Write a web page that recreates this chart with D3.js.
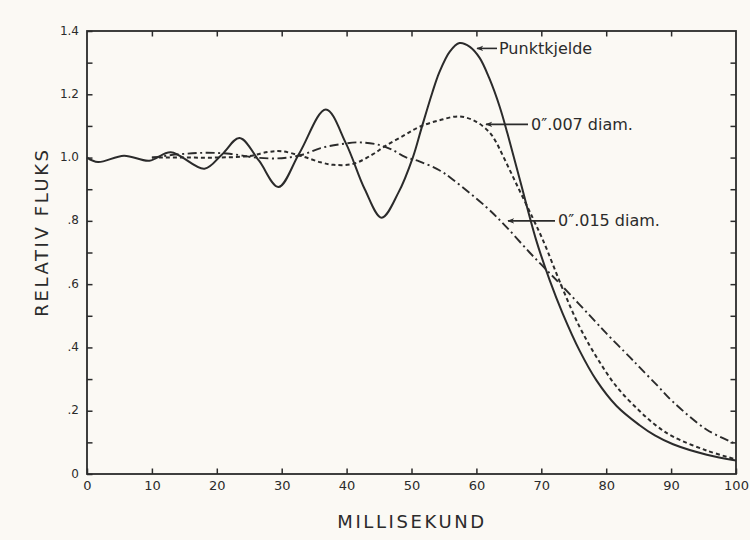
<!DOCTYPE html>
<html>
<head>
<meta charset="utf-8">
<script src="https://cdn.jsdelivr.net/npm/d3@7"></script>
<style>
  html, body { margin: 0; padding: 0; background: #fbf9f4; }
  svg { display: block; }
</style>
</head>
<body>
<svg id="chart" width="750" height="540"></svg>
<script>
// ---- data ----
const xTicks = [0, 10, 20, 30, 40, 50, 60, 70, 80, 90, 100];
const yTickValues = [0, 0.2, 0.4, 0.6, 0.8, 1.0, 1.2, 1.4];
const yTickLabels = ["0", ".2", ".4", ".6", ".8", "1.0", "1.2", "1.4"];
const yMinorTicks = [0.1, 0.3, 0.5, 0.7, 0.9, 1.1, 1.3];

const xLabel = "MILLISEKUND";
const yLabel = "RELATIV FLUKS";

// Punktkjelde (solid)
const pointMs   = [0, 1.7, 5.7, 9.6, 12.9, 18.1, 20.8, 23.5, 26.5, 29.5, 32.7, 36.8, 39.9, 42.8, 45.4, 48.0, 50.2, 51.5, 53.2, 54.3, 55.9, 57.4, 59.0, 60.5, 62.0, 63.6, 64.8, 66.7, 69.2, 71.3, 73.3, 75.9, 78.5, 81.6, 85.1, 87.5, 90.3, 95.5, 100];
const pointFlux = [1.0, 0.986, 1.006, 0.99, 1.017, 0.965, 1.01, 1.062, 0.99, 0.907, 1.013, 1.152, 1.045, 0.9, 0.81, 0.89, 1.0, 1.09, 1.205, 1.27, 1.335, 1.362, 1.35, 1.315, 1.25, 1.16, 1.075, 0.93, 0.74, 0.612, 0.507, 0.39, 0.296, 0.215, 0.155, 0.122, 0.094, 0.061, 0.043];

// 0".007 diam. (short dashes)
const d007Ms   = [10, 15, 20, 25, 28, 30, 33, 36, 38, 41, 44, 46, 49, 51.2, 54.3, 57.4, 60, 62, 63, 64.1, 66.2, 68.7, 70.3, 73.3, 75.9, 78.5, 81.6, 85.1, 87.7, 90.3, 95.5, 100];
const d007Flux = [1.0, 1.0, 1.0, 1.005, 1.018, 1.02, 1.005, 0.985, 0.977, 0.98, 1.01, 1.037, 1.072, 1.097, 1.118, 1.13, 1.113, 1.08, 1.05, 1.005, 0.915, 0.808, 0.737, 0.585, 0.465, 0.37, 0.276, 0.2, 0.153, 0.118, 0.074, 0.046];

// 0".015 diam. (dash-dot)
const d015Ms   = [10, 14, 18, 22, 26, 30, 33, 36, 39, 42, 45, 47, 49, 51.2, 54.3, 56.4, 61.5, 64.6, 68.2, 70.8, 73.3, 78.5, 80, 83.6, 85.2, 88, 90.3, 95.5, 100];
const d015Flux = [1.0, 1.01, 1.015, 1.012, 1.0, 0.998, 1.008, 1.03, 1.042, 1.048, 1.04, 1.025, 1.002, 0.988, 0.96, 0.93, 0.844, 0.781, 0.70, 0.645, 0.592, 0.478, 0.445, 0.37, 0.336, 0.277, 0.228, 0.14, 0.095];

// ---- drawing ----
const ink = "#2b2b2b";
const font = "'DejaVu Sans', sans-serif";
const svg = d3.select("#chart");

const x = d3.scaleLinear().domain([0, 100]).range([87, 736]);
const y = d3.scaleLinear().domain([0, 1.4]).range([474, 31]);

svg.append("defs").append("marker")
  .attr("id", "arr").attr("viewBox", "0 0 10 10").attr("refX", 9).attr("refY", 5)
  .attr("markerWidth", 7).attr("markerHeight", 7).attr("markerUnits", "userSpaceOnUse").attr("orient", "auto")
  .append("path").attr("d", "M10,5 L0,1 L3,5 L0,9 Z").attr("fill", ink);

const g = svg.append("g");

// frame
g.append("rect")
  .attr("x", x(0)).attr("y", y(1.4))
  .attr("width", x(100) - x(0)).attr("height", y(0) - y(1.4))
  .attr("fill", "none").attr("stroke", ink).attr("stroke-width", 1.8);

const tl = 5.5;
const bottomAxis = d3.axisBottom(x).tickValues(xTicks).tickSize(-tl).tickPadding(tl + 8).tickFormat(d3.format("d"));
const gb = g.append("g").attr("transform", `translate(0,${y(0)})`).call(bottomAxis);
const topAxis = d3.axisTop(x).tickValues(xTicks.slice(1, -1)).tickSize(-tl).tickFormat("");
const gt = g.append("g").attr("transform", `translate(0,${y(1.4)})`).call(topAxis);
const leftAxis = d3.axisLeft(y).tickValues(yTickValues.concat(yMinorTicks)).tickSize(-tl).tickPadding(8)
  .tickFormat(d => { const i = yTickValues.findIndex(v => Math.abs(v - d) < 1e-9); return i >= 0 ? yTickLabels[i] : ""; });
const gl = g.append("g").attr("transform", `translate(${x(0)},0)`).call(leftAxis);
const rightAxis = d3.axisRight(y).tickValues(yTickValues.slice(1, -1).concat(yMinorTicks)).tickSize(-tl).tickFormat("");
const gr = g.append("g").attr("transform", `translate(${x(100)},0)`).call(rightAxis);

[gb, gt, gl, gr].forEach(a => {
  a.select(".domain").remove();
  a.selectAll(".tick line").attr("stroke", ink).attr("stroke-width", 1.5);
  a.selectAll(".tick text").attr("fill", ink).attr("font-family", font);
});
gb.selectAll(".tick text").attr("font-size", 13).attr("dy", "0.2em");
gl.selectAll(".tick text").attr("font-size", 12).attr("dy", "0.25em");

// axis titles
g.append("text").text(xLabel)
  .attr("x", 412).attr("y", 528).attr("text-anchor", "middle")
  .attr("font-family", font).attr("font-size", 18).attr("letter-spacing", 2.6).attr("fill", ink);
g.append("text").text(yLabel)
  .attr("transform", `translate(48,232) rotate(-90)`).attr("text-anchor", "middle")
  .attr("font-family", font).attr("font-size", 18).attr("letter-spacing", 2.6).attr("fill", ink);

// curves
const line = (xs, ys) => d3.line().curve(d3.curveCatmullRom.alpha(0.5))
  .x((d, i) => x(xs[i])).y((d, i) => y(ys[i]))(xs);

g.append("path").attr("d", line(pointMs, pointFlux))
  .attr("fill", "none").attr("stroke", ink).attr("stroke-width", 2);
g.append("path").attr("d", line(d007Ms, d007Flux))
  .attr("fill", "none").attr("stroke", ink).attr("stroke-width", 2).attr("stroke-dasharray", "4,3");
g.append("path").attr("d", line(d015Ms, d015Flux))
  .attr("fill", "none").attr("stroke", ink).attr("stroke-width", 1.9).attr("stroke-dasharray", "9,3.5,2,3.5");

// annotations with arrows
const notes = [
  { x1: 497, xTip: 477, yv: 1.345, label: "Punktkjelde", tx: 499 },
  { x1: 528, xTip: 486, yv: 1.105, label: "0\u2033.007 diam.", tx: 531 },
  { x1: 555, xTip: 508, yv: 0.80, label: "0\u2033.015 diam.", tx: 558 }
];
notes.forEach(n => {
  const yy = y(n.yv);
  g.append("line").attr("x1", n.x1).attr("y1", yy).attr("x2", n.xTip).attr("y2", yy)
    .attr("stroke", ink).attr("stroke-width", 1.6).attr("marker-end", "url(#arr)");
  g.append("text").attr("x", n.tx).attr("y", yy + 5.5)
    .attr("font-family", font).attr("font-size", 16).attr("fill", ink).text(n.label);
});
</script>
</body>
</html>
